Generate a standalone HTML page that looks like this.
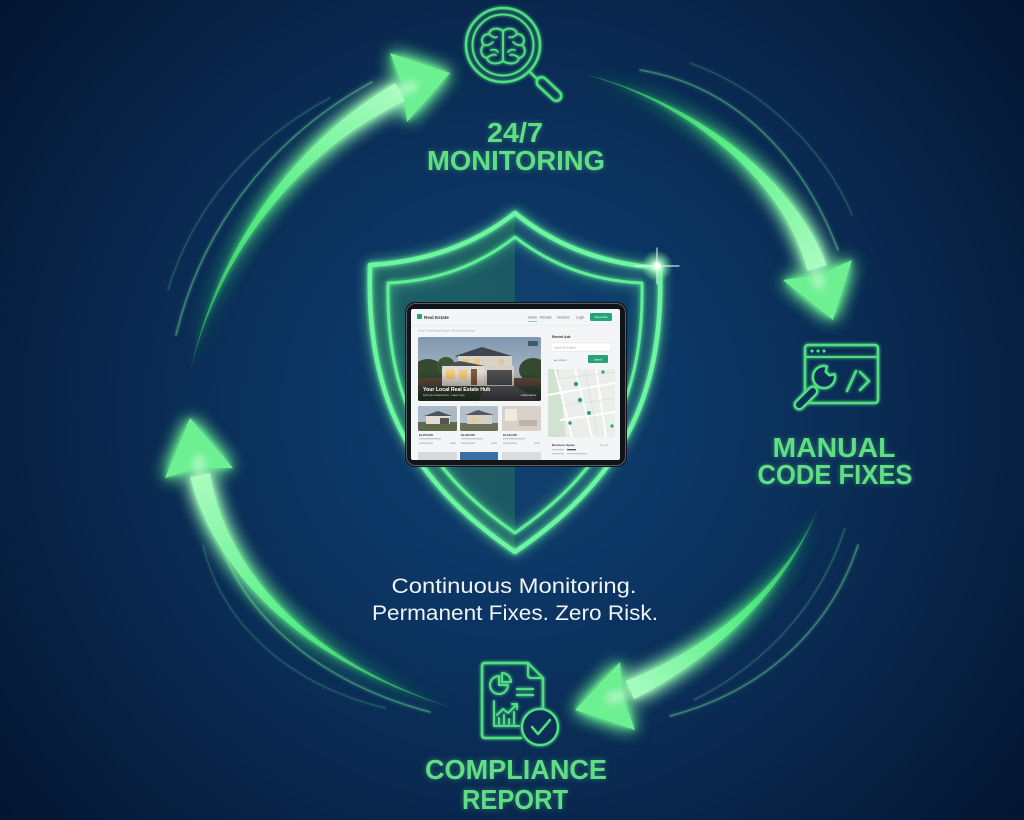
<!DOCTYPE html>
<html><head><meta charset="utf-8"><style>
html,body{margin:0;padding:0;background:#0a2548;}
svg{display:block}
</style></head><body>
<svg width="1024" height="820" viewBox="0 0 1024 820" xmlns="http://www.w3.org/2000/svg" font-family="'Liberation Sans', Arial, sans-serif">
<defs>
<radialGradient id="bg" cx="512" cy="410" r="680" gradientUnits="userSpaceOnUse">
<stop offset="0" stop-color="#0f3f70"/>
<stop offset="0.3" stop-color="#0c3563"/>
<stop offset="0.55" stop-color="#0a2a52"/>
<stop offset="0.8" stop-color="#061d3d"/>
<stop offset="1" stop-color="#031430"/>
</radialGradient>
<filter id="glow" x="-40%" y="-40%" width="180%" height="180%">
<feGaussianBlur in="SourceGraphic" stdDeviation="9" result="b1"/>
<feGaussianBlur in="SourceGraphic" stdDeviation="3" result="b2"/>
<feMerge><feMergeNode in="b1"/><feMergeNode in="b1"/><feMergeNode in="b2"/><feMergeNode in="SourceGraphic"/></feMerge>
</filter>
<filter id="sglow" x="-30%" y="-30%" width="160%" height="160%">
<feGaussianBlur in="SourceGraphic" stdDeviation="6" result="b1"/>
<feGaussianBlur in="SourceGraphic" stdDeviation="2" result="b2"/>
<feMerge><feMergeNode in="b1"/><feMergeNode in="b2"/><feMergeNode in="SourceGraphic"/></feMerge>
</filter>
<filter id="soft" x="-20%" y="-20%" width="140%" height="140%">
<feGaussianBlur stdDeviation="1.5" result="b"/>
<feMerge><feMergeNode in="b"/><feMergeNode in="SourceGraphic"/></feMerge>
</filter>
<filter id="tglow" x="-20%" y="-40%" width="140%" height="180%">
<feGaussianBlur in="SourceGraphic" stdDeviation="3" result="b"/>
<feComponentTransfer in="b" result="b2"><feFuncA type="linear" slope="0.45"/></feComponentTransfer>
<feMerge><feMergeNode in="b2"/><feMergeNode in="SourceGraphic"/></feMerge>
</filter>
<filter id="blur4"><feGaussianBlur stdDeviation="4"/></filter>

<linearGradient id="lg1" gradientUnits="userSpaceOnUse" x1="190" y1="373" x2="400" y2="92">
<stop offset="0" stop-color="#3bd96a" stop-opacity="0.4"/><stop offset="0.5" stop-color="#55ee84"/><stop offset="1" stop-color="#a8fcbf"/></linearGradient>
<linearGradient id="lg2" gradientUnits="userSpaceOnUse" x1="580" y1="73" x2="817" y2="268">
<stop offset="0" stop-color="#3bd96a" stop-opacity="0.4"/><stop offset="0.5" stop-color="#55ee84"/><stop offset="1" stop-color="#a8fcbf"/></linearGradient>
<linearGradient id="lg3" gradientUnits="userSpaceOnUse" x1="818" y1="508" x2="630" y2="690">
<stop offset="0" stop-color="#3bd96a" stop-opacity="0.4"/><stop offset="0.5" stop-color="#55ee84"/><stop offset="1" stop-color="#a8fcbf"/></linearGradient>
<linearGradient id="lg4" gradientUnits="userSpaceOnUse" x1="453" y1="708" x2="200" y2="475">
<stop offset="0" stop-color="#3bd96a" stop-opacity="0.4"/><stop offset="0.5" stop-color="#55ee84"/><stop offset="1" stop-color="#a8fcbf"/></linearGradient>

<linearGradient id="shOut" gradientUnits="userSpaceOnUse" x1="370" y1="0" x2="660" y2="0">
<stop offset="0" stop-color="#17525e"/><stop offset="0.5" stop-color="#18535f"/><stop offset="0.5" stop-color="#0e3b69"/><stop offset="1" stop-color="#0e3a67"/></linearGradient>
<linearGradient id="shIn" gradientUnits="userSpaceOnUse" x1="388" y1="0" x2="640" y2="0">
<stop offset="0" stop-color="#1d5e66"/><stop offset="0.504" stop-color="#1b5a64"/><stop offset="0.504" stop-color="#103f6d"/><stop offset="1" stop-color="#0f3e6b"/></linearGradient>
<radialGradient id="spark" cx="0.5" cy="0.5" r="0.5">
<stop offset="0" stop-color="#ffffff"/><stop offset="0.25" stop-color="#c8ffd8" stop-opacity="0.9"/><stop offset="1" stop-color="#5cf08a" stop-opacity="0"/></radialGradient>

<linearGradient id="sky" x1="0" y1="0" x2="0" y2="1">
<stop offset="0" stop-color="#7f97b0"/><stop offset="1" stop-color="#c4ccd4"/></linearGradient>
<linearGradient id="shade" x1="0" y1="0" x2="0" y2="1">
<stop offset="0.55" stop-color="#000" stop-opacity="0"/><stop offset="1" stop-color="#000" stop-opacity="0.55"/></linearGradient>
<clipPath id="hero"><rect x="418" y="337" width="123" height="64" rx="2"/></clipPath>
<clipPath id="t1"><rect x="418" y="406" width="39" height="25" rx="1.5"/></clipPath>
<clipPath id="t2"><rect x="460" y="406" width="38" height="25" rx="1.5"/></clipPath>
<clipPath id="map"><rect x="548" y="369" width="67" height="68"/></clipPath>
</defs>

<rect x="0" y="0" width="1024" height="820" fill="url(#bg)"/>

<!-- ===== Arrow trails ===== -->
<g fill="none" stroke="#7cf5a0" stroke-linecap="round" filter="url(#soft)">
<path d="M176,335 C200,235 265,140 372,82" stroke-width="1.8" opacity="0.32"/>
<path d="M168,290 C192,210 250,140 330,98" stroke-width="1.3" opacity="0.18"/>
<path d="M640,70 C730,85 800,150 838,250" stroke-width="1.8" opacity="0.32"/>
<path d="M690,63 C765,90 825,150 852,215" stroke-width="1.3" opacity="0.18"/>
<path d="M858,545 C832,625 768,690 670,716" stroke-width="1.8" opacity="0.32"/>
<path d="M845,528 C822,600 770,662 694,700" stroke-width="1.3" opacity="0.2"/>
<path d="M210,500 C222,600 308,680 430,712" stroke-width="1.8" opacity="0.32"/>
<path d="M203,545 C222,625 290,685 385,708" stroke-width="1.3" opacity="0.18"/>
</g>

<!-- ===== Arrows ===== -->
<g filter="url(#glow)">
<path d="M190,373 C213.5,259.7 286.6,146.3 395.3,83.1 L404.7,100.9 C293.4,153.7 216.5,260.3 190,373 Z" fill="url(#lg1)"/>
<path d="M450,73 L390,53 L403,86 L407,122 Z" fill="#6cf092"/>
<path d="M580,73 C690.7,98.7 794,177 826.6,265.1 L807.4,270.9 C786,183 689.3,101.3 580,73 Z" fill="url(#lg2)"/>
<path d="M833,320 L783,280 L819,275 L852,260 Z" fill="#6cf092"/>
<path d="M818,508 C791.2,580.9 722.8,654.1 634.1,699.1 L625.9,680.9 C717.2,645.9 788.8,579.1 818,508 Z" fill="url(#lg3)"/>
<path d="M575,710 L620,662 L622.7,697 L635,730 Z" fill="#6cf092"/>
<path d="M453,708 C329.3,671.3 220.8,592.8 190.2,477.1 L209.8,472.9 C229.2,587.2 330.7,668.7 453,708 Z" fill="url(#lg4)"/>
<path d="M190,418 L165,478 L198,468 L233,468 Z" fill="#6cf092"/>
</g>
<!-- arrow hot cores -->
<g fill="#eafff0" opacity="0.5" filter="url(#blur4)">
<ellipse cx="408" cy="88" rx="11" ry="6" transform="rotate(-25 408 88)"/>
<ellipse cx="818" cy="280" rx="6" ry="10" transform="rotate(-20 818 280)"/>
<ellipse cx="616" cy="697" rx="11" ry="6" transform="rotate(-15 616 697)"/>
<ellipse cx="199" cy="464" rx="6" ry="10"/>
</g>

<!-- ===== Shield ===== -->
<path d="M515,213 Q455,260 370,265 C366,400 410,480 515,552 C620,480 664,400 660,268 Q575,262 515,213 Z" fill="url(#shOut)"/>
<path d="M515,237 Q460,280 388,283 C386,400 425,470 515,533 C605,470 644,400 642,283 Q570,280 515,237 Z" fill="url(#shIn)"/>
<g fill="none" stroke-linejoin="round" filter="url(#sglow)">
<path d="M515,213 Q455,260 370,265 C366,400 410,480 515,552 C620,480 664,400 660,268 Q575,262 515,213 Z" stroke="#6af7a0" stroke-width="4.5"/>
<path d="M515,237 Q460,280 388,283 C386,400 425,470 515,533 C605,470 644,400 642,283 Q570,280 515,237 Z" stroke="#5ef095" stroke-width="3"/>
</g>
<!-- sparkle -->
<circle cx="657" cy="266" r="16" fill="url(#spark)"/>
<g stroke="#e8fff0" stroke-linecap="round" opacity="0.85">
<line x1="635" y1="266" x2="679" y2="266" stroke-width="1.2"/>
<line x1="657" y1="248" x2="657" y2="284" stroke-width="1.2"/>
</g>
<circle cx="657" cy="266" r="3.5" fill="#ffffff"/>

<!-- ===== Tablet ===== -->
<rect x="405" y="302" width="222" height="165" rx="10" fill="#111418"/>
<rect x="406.5" y="303.5" width="219" height="162" rx="9" fill="none" stroke="#5a6068" stroke-width="1"/>
<rect x="411" y="309" width="209" height="151" rx="2" fill="#f3f5f6"/>
<g font-family="'Liberation Sans', Arial, sans-serif">
<rect x="417" y="314" width="5" height="5" rx="1" fill="#2c9c72"/>
<text x="424" y="318.8" font-size="4.6" font-weight="bold" fill="#2f3a3a">Real Estate</text>
<g font-size="3.4" fill="#666">
<text x="528" y="318.5">Home</text>
<text x="540" y="318.5">Rentals</text>
<text x="557" y="318.5">Vendors</text>
<text x="576" y="318.5">Login</text>
</g>
<rect x="528" y="321" width="9" height="0.8" fill="#2c9c72" opacity="0.6"/>
<rect x="590" y="313" width="22" height="8" rx="1.5" fill="#25a47a"/>
<text x="601" y="318.2" font-size="3" fill="#fff" text-anchor="middle">Save Ads</text>
<line x1="411" y1="325" x2="620" y2="325" stroke="#e3e6e8" stroke-width="0.5"/>
<text x="418" y="331.5" font-size="2.6" fill="#9aa">Home  ›  Real Estate Search  ›  Real Estate Listings</text>

<!-- hero -->
<g clip-path="url(#hero)">
<rect x="418" y="337" width="123" height="64" fill="url(#sky)"/>
<ellipse cx="428" cy="372" rx="16" ry="13" fill="#34492f"/>
<ellipse cx="446" cy="366" rx="9" ry="9" fill="#3e5636"/>
<ellipse cx="533" cy="370" rx="14" ry="12" fill="#34492f"/>
<rect x="418" y="378" width="123" height="10" fill="#5b4a3c"/>
<polygon points="455,356 482,347 512,356 458,357" fill="#3f454e"/>
<rect x="458" y="356" width="54" height="13" fill="#d9d3c8"/>
<rect x="463" y="359" width="6" height="6" fill="#f2c678"/>
<rect x="474" y="359" width="6" height="6" fill="#f2c678"/>
<rect x="498" y="359" width="6" height="6" fill="#d8c8a8"/>
<polygon points="438,366 460,361 485,366" fill="#4a5058"/>
<rect x="442" y="366" width="42" height="20" fill="#e0dbd0"/>
<rect x="446" y="370" width="9" height="9" fill="#f4c878"/>
<rect x="459" y="370" width="8" height="9" fill="#f4c878"/>
<rect x="471" y="369" width="6" height="16" fill="#7a5a3a"/>
<rect x="484" y="366" width="30" height="20" fill="#d6d0c5"/>
<rect x="487" y="370" width="25" height="15" fill="#4c4d50"/>
<rect x="418" y="386" width="123" height="15" fill="#3d4a3a"/>
<polygon points="485,386 515,386 541,401 478,401" fill="#5a5e63"/>
<rect x="418" y="337" width="123" height="64" fill="url(#shade)"/>
<rect x="528" y="341" width="10" height="5" rx="1" fill="#2c4a52" opacity="0.8"/>
<text x="423" y="391" font-size="5.2" font-weight="bold" fill="#fff">Your Local Real Estate Hub</text>
<text x="423" y="396" font-size="2.6" fill="#dde">Find your dream home · Learn more</text>
<text x="520" y="396" font-size="2.6" fill="#fff">⌂ Open Home</text>
</g>

<!-- thumbnails -->
<g clip-path="url(#t1)">
<rect x="418" y="406" width="39" height="25" fill="#a9b8c6"/>
<rect x="418" y="422" width="39" height="9" fill="#5d6b4a"/>
<polygon points="424,416 438,411 452,416" fill="#4e535a"/>
<rect x="426" y="416" width="24" height="8" fill="#e2dcd2"/>
<rect x="440" y="418" width="9" height="6" fill="#555"/>
</g>
<g clip-path="url(#t2)">
<rect x="460" y="406" width="38" height="25" fill="#b3c0cc"/>
<rect x="460" y="423" width="38" height="8" fill="#6b7058"/>
<polygon points="465,415 478,410 494,415" fill="#55595f"/>
<rect x="467" y="415" width="25" height="9" fill="#d5d0c6"/>
<rect x="472" y="417" width="5" height="4" fill="#e8c88a"/>
</g>
<rect x="502" y="406" width="39" height="25" rx="1.5" fill="#d7d1c8"/>
<rect x="505" y="409" width="12" height="12" fill="#eeeae4"/>
<rect x="519" y="420" width="18" height="6" fill="#bdb3a6"/>
<g font-size="2.8" fill="#333" font-weight="bold">
<text x="419" y="436">$1,250,000</text>
<text x="461" y="436">$1,350,000</text>
<text x="503" y="436">$1,100,000</text>
</g>
<g fill="#c5cacd">
<rect x="419" y="438" width="22" height="1.4"/><rect x="461" y="438" width="22" height="1.4"/><rect x="503" y="438" width="22" height="1.4"/>
<rect x="419" y="442.5" width="14" height="1.4"/><rect x="450" y="442.5" width="6" height="1.4"/>
<rect x="461" y="442.5" width="14" height="1.4"/><rect x="491" y="442.5" width="6" height="1.4"/>
<rect x="503" y="442.5" width="14" height="1.4"/><rect x="534" y="442.5" width="6" height="1.4"/>
</g>
<rect x="418" y="452" width="39" height="8" fill="#d8dadc"/>
<rect x="460" y="452" width="38" height="8" fill="#3c6fa6"/>
<rect x="502" y="452" width="39" height="8" fill="#dcdcdc"/>

<!-- right column -->
<text x="552" y="338" font-size="3.4" font-weight="bold" fill="#333">Recent Ads</text>
<rect x="551" y="343" width="60" height="8.5" rx="1" fill="#fff" stroke="#dde1e4" stroke-width="0.5"/>
<text x="554" y="348.5" font-size="2.6" fill="#999">Search for a listing</text>
<text x="554" y="361" font-size="2.6" fill="#777">◉ Location</text>
<rect x="588" y="355" width="20" height="8" rx="1" fill="#25a47a"/>
<text x="598" y="360.3" font-size="2.6" fill="#fff" text-anchor="middle">Search</text>
<g clip-path="url(#map)">
<rect x="548" y="369" width="67" height="68" fill="#eceeeb"/>
<polygon points="548,369 558,369 566,437 548,437" fill="#cfe3cf"/>
<g stroke="#ffffff" stroke-width="2" fill="none">
<path d="M555,369 L572,437"/><path d="M548,395 L615,383"/><path d="M575,369 L592,437"/><path d="M560,420 L615,412"/><path d="M596,369 L606,437"/>
</g>
<g stroke="#d5d9dc" stroke-width="0.6" fill="none">
<path d="M548,380 L615,372"/><path d="M548,408 L615,398"/><path d="M585,369 L598,437"/>
</g>
<g fill="#2aa37c">
<circle cx="576" cy="384" r="2.2"/><circle cx="580" cy="400" r="2.2"/><circle cx="589" cy="413" r="2"/><circle cx="570" cy="423" r="1.8"/><circle cx="603" cy="372" r="1.6"/><circle cx="612" cy="426" r="1.6"/>
</g>
</g>
<text x="552" y="446" font-size="3" font-weight="bold" fill="#333">Business Space</text>
<text x="600" y="446" font-size="2.4" fill="#aaa">View all</text>
<rect x="552" y="449" width="12" height="1.3" fill="#c5cacd"/><rect x="567" y="449" width="9" height="1.3" fill="#555"/>
<rect x="552" y="453" width="12" height="1.3" fill="#c5cacd"/><rect x="567" y="453" width="20" height="1.3" fill="#c5cacd"/>
</g>

<!-- ===== Icons ===== -->
<g fill="none" stroke="#4fdf7e" stroke-width="2.5" stroke-linecap="round" stroke-linejoin="round" filter="url(#soft)">
<!-- magnifier brain -->
<circle cx="503" cy="45" r="37"/>
<circle cx="503" cy="45" r="30.5" stroke-width="2"/>
<line x1="529" y1="71" x2="536" y2="78"/>
<rect x="534" y="84" width="30" height="10" rx="5" transform="rotate(43 549 89)"/>
<path d="M503,31 C498,27 490,28 489,34 C482,34 480,41 484,45 C479,49 481,57 487,58 C488,64 497,65 503,61" stroke-width="2"/>
<path d="M503,31 C508,27 516,28 517,34 C524,34 526,41 522,45 C527,49 525,57 519,58 C518,64 509,65 503,61" stroke-width="2"/>
<path d="M503,31 L503,61" stroke-width="2"/>
<path d="M489,34 C492,37 495,38 497,37 M484,45 C488,46 491,44 493,42 M487,58 C490,55 494,54 496,55 M491,50 C494,49 497,50 498,52" stroke-width="1.8"/>
<path d="M517,34 C514,37 511,38 509,37 M522,45 C518,46 515,44 513,42 M519,58 C516,55 512,54 510,55 M515,50 C512,49 509,50 508,52" stroke-width="1.8"/>

<!-- code window -->
<rect x="805" y="345" width="73" height="58" rx="3"/>
<line x1="805" y1="357" x2="878" y2="357" stroke-width="2"/>
<path d="M847,391 L856,371 M860,372 L869,381 L860,390"/>
<!-- report doc -->
<path d="M528,663 L485,663 Q482,663 482,666 L482,735 Q482,738 485,738 L521,738"/>
<path d="M543,678 L543,709"/>
<path d="M528,663 L543,678 M528,663 L528,675 Q528,678 531,678 L543,678" stroke-width="2"/>
<path d="M499,676 A9,9 0 1 0 508,685 L499,685 Z" stroke-width="2"/>
<path d="M502,673 A9,9 0 0 1 511,682 L502,682 Z" stroke-width="2"/>
<path d="M517,689 L533,689 M517,695 L533,695" stroke-width="2.2"/>
<path d="M494,701 L494,726 L519,726" stroke-width="2"/>
<path d="M499,724 L499,718 M504,724 L504,715 M509,724 L509,719 M514,724 L514,712" stroke-width="2"/>
<path d="M497,715 L503,709 L508,713 L517,704 M512,704 L517,704 L517,709" stroke-width="2"/>
</g>
<!-- wrench (filled to hide overlaps) -->
<g stroke="#4fdf7e" stroke-width="2.5" stroke-linejoin="round" filter="url(#soft)">
<rect x="792" y="393.5" width="28" height="9" rx="4.5" transform="rotate(-45 806 398)" fill="url(#bg)"/>
<path d="M826.8,366.4 A11,11 0 1 0 834.6,374.2 L829.3,375.4 L825.6,371.7 Z" fill="url(#bg)"/>
<circle cx="540" cy="727" r="18" fill="url(#bg)"/>
<path d="M532,727 L538,734 L550,720" fill="none" stroke-linecap="round"/>
</g>
<g fill="#4fdf7e">
<circle cx="812" cy="351" r="1.6"/><circle cx="818" cy="351" r="1.6"/><circle cx="824" cy="351" r="1.6"/>
</g>

<!-- ===== Labels ===== -->
<g font-weight="bold" fill="#5ede84" font-size="28" text-anchor="middle" filter="url(#tglow)">
<text x="515" y="142" textLength="56" lengthAdjust="spacingAndGlyphs">24/7</text>
<text x="516" y="170" textLength="178" lengthAdjust="spacingAndGlyphs">MONITORING</text>
<text x="834" y="457" textLength="123" lengthAdjust="spacingAndGlyphs">MANUAL</text>
<text x="835" y="484" textLength="155" lengthAdjust="spacingAndGlyphs">CODE FIXES</text>
<text x="516" y="779" textLength="182" lengthAdjust="spacingAndGlyphs">COMPLIANCE</text>
<text x="515" y="809" textLength="106" lengthAdjust="spacingAndGlyphs">REPORT</text>
</g>
<g fill="#eef3f8" font-size="21" text-anchor="middle">
<text x="514" y="593" textLength="245" lengthAdjust="spacingAndGlyphs">Continuous Monitoring.</text>
<text x="515" y="620" textLength="286" lengthAdjust="spacingAndGlyphs">Permanent Fixes. Zero Risk.</text>
</g>
</svg>
</body></html>
